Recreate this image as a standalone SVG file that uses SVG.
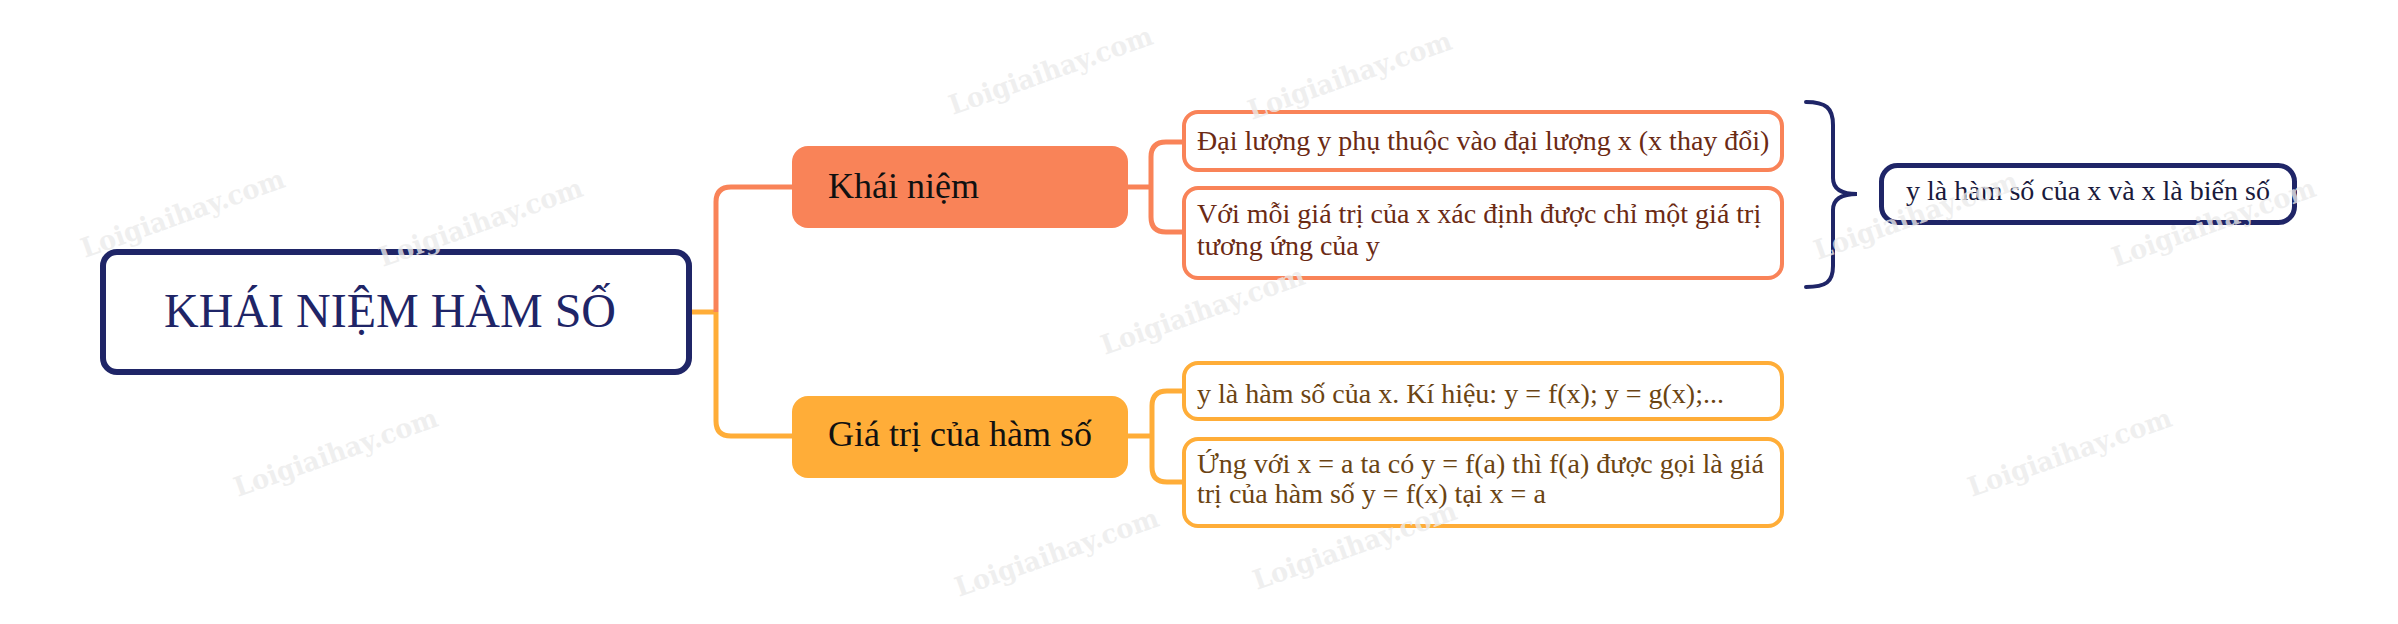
<svg xmlns="http://www.w3.org/2000/svg" width="2398" height="624" viewBox="0 0 2398 624">
<style>
.t{font-family:"Liberation Serif","Times New Roman",serif}
.box{fill:#ffffff}
.wm{font-family:"DejaVu Serif",serif;font-weight:bold;font-size:27px;fill:#ebebeb;fill-opacity:0.8}
.cc{fill:none;stroke:#F98358;stroke-width:5}
.co{fill:none;stroke:#FFAD38;stroke-width:5}
</style>
<rect width="2398" height="624" fill="#ffffff"/>
<g id="connectors">
<path class="co" d="M690,312 H718"/>
<path class="cc" d="M716,312 V202 Q716,187 731,187 H794"/>
<path class="co" d="M716,312 V421 Q716,436 731,436 H794"/>
<path class="cc" d="M1126,187 H1151"/>
<path class="cc" d="M1184,142 H1166 Q1151,142 1151,157 V217 Q1151,232 1166,232 H1184"/>
<path class="co" d="M1126,436 H1152"/>
<path class="co" d="M1184,391 H1167 Q1152,391 1152,406 V467 Q1152,482 1167,482 H1184"/>
<path d="M1806,102 C1826,102 1833,108 1833,125 L1833,178 C1833,188 1840,194 1857,194 C1840,194 1833,200 1833,210 L1833,266 C1833,282 1826,287 1806,287" fill="none" stroke="#1F2567" stroke-width="4" stroke-linecap="round"/>
</g>
<g id="root">
<rect x="103" y="252" width="586" height="120" rx="14" fill="#ffffff" stroke="#1F2567" stroke-width="6"/>
<text class="t" x="390" y="327" font-size="48" fill="#1F2567" text-anchor="middle">KHÁI NIỆM HÀM SỐ</text>
</g>
<g id="khai-niem">
<rect x="792" y="146" width="336" height="82" rx="16" fill="#F98358"/>
<text class="t" x="828" y="198" font-size="36" fill="#111111">Khái niệm</text>
</g>
<g id="gia-tri">
<rect x="792" y="396" width="336" height="82" rx="16" fill="#FFAD38"/>
<text class="t" x="828" y="446" font-size="36" fill="#111111">Giá trị của hàm số</text>
</g>
<g id="c1">
<rect x="1184" y="112" width="598" height="58" rx="14" fill="#ffffff" stroke="#F98358" stroke-width="4"/>
<text class="t" x="1197" y="150" font-size="28" fill="#6B2A14">Đại lượng y phụ thuộc vào đại lượng x (x thay đổi)</text>
</g>
<g id="c2">
<rect x="1184" y="188" width="598" height="90" rx="14" fill="#ffffff" stroke="#F98358" stroke-width="4"/>
<text class="t" font-size="28" fill="#6B2A14"><tspan x="1197" y="223">Với mỗi giá trị của x xác định được chỉ một giá trị</tspan><tspan x="1197" y="255">tương ứng của y</tspan></text>
</g>
<g id="c3">
<rect x="1184" y="363" width="598" height="56" rx="14" fill="#ffffff" stroke="#FFAD38" stroke-width="4"/>
<text class="t" x="1197" y="403" font-size="28" fill="#6B4412">y là hàm số của x. Kí hiệu: y = f(x); y = g(x);...</text>
</g>
<g id="c4">
<rect x="1184" y="439" width="598" height="87" rx="14" fill="#ffffff" stroke="#FFAD38" stroke-width="4"/>
<text class="t" font-size="28" fill="#6B4412"><tspan x="1197" y="473">Ứng với x = a ta có y = f(a) thì f(a) được gọi là giá</tspan><tspan x="1197" y="503">trị của hàm số y = f(x) tại x = a</tspan></text>
</g>
<g id="result">
<rect x="1881.5" y="165.5" width="413" height="57" rx="16" fill="#ffffff" stroke="#1F2567" stroke-width="5"/>
<text class="t" x="1906" y="200" font-size="28" fill="#1A1A3C">y là hàm số của x và x là biến số</text>
</g>
<g id="watermarks">
<text class="wm" transform="translate(953,115) rotate(-19.5)" textLength="214" lengthAdjust="spacingAndGlyphs">Loigiaihay.com</text>
<text class="wm" transform="translate(1252,120) rotate(-19.5)" textLength="214" lengthAdjust="spacingAndGlyphs">Loigiaihay.com</text>
<text class="wm" transform="translate(85,258) rotate(-19.5)" textLength="214" lengthAdjust="spacingAndGlyphs">Loigiaihay.com</text>
<text class="wm" transform="translate(383,267) rotate(-19.5)" textLength="214" lengthAdjust="spacingAndGlyphs">Loigiaihay.com</text>
<text class="wm" transform="translate(1105,355) rotate(-19.5)" textLength="214" lengthAdjust="spacingAndGlyphs">Loigiaihay.com</text>
<text class="wm" transform="translate(1818,260) rotate(-19.5)" textLength="214" lengthAdjust="spacingAndGlyphs">Loigiaihay.com</text>
<text class="wm" transform="translate(2116,267) rotate(-19.5)" textLength="214" lengthAdjust="spacingAndGlyphs">Loigiaihay.com</text>
<text class="wm" transform="translate(238,497) rotate(-19.5)" textLength="214" lengthAdjust="spacingAndGlyphs">Loigiaihay.com</text>
<text class="wm" transform="translate(959,597) rotate(-19.5)" textLength="214" lengthAdjust="spacingAndGlyphs">Loigiaihay.com</text>
<text class="wm" transform="translate(1257,590) rotate(-19.5)" textLength="214" lengthAdjust="spacingAndGlyphs">Loigiaihay.com</text>
<text class="wm" transform="translate(1972,497) rotate(-19.5)" textLength="214" lengthAdjust="spacingAndGlyphs">Loigiaihay.com</text>
</g>
</svg>
